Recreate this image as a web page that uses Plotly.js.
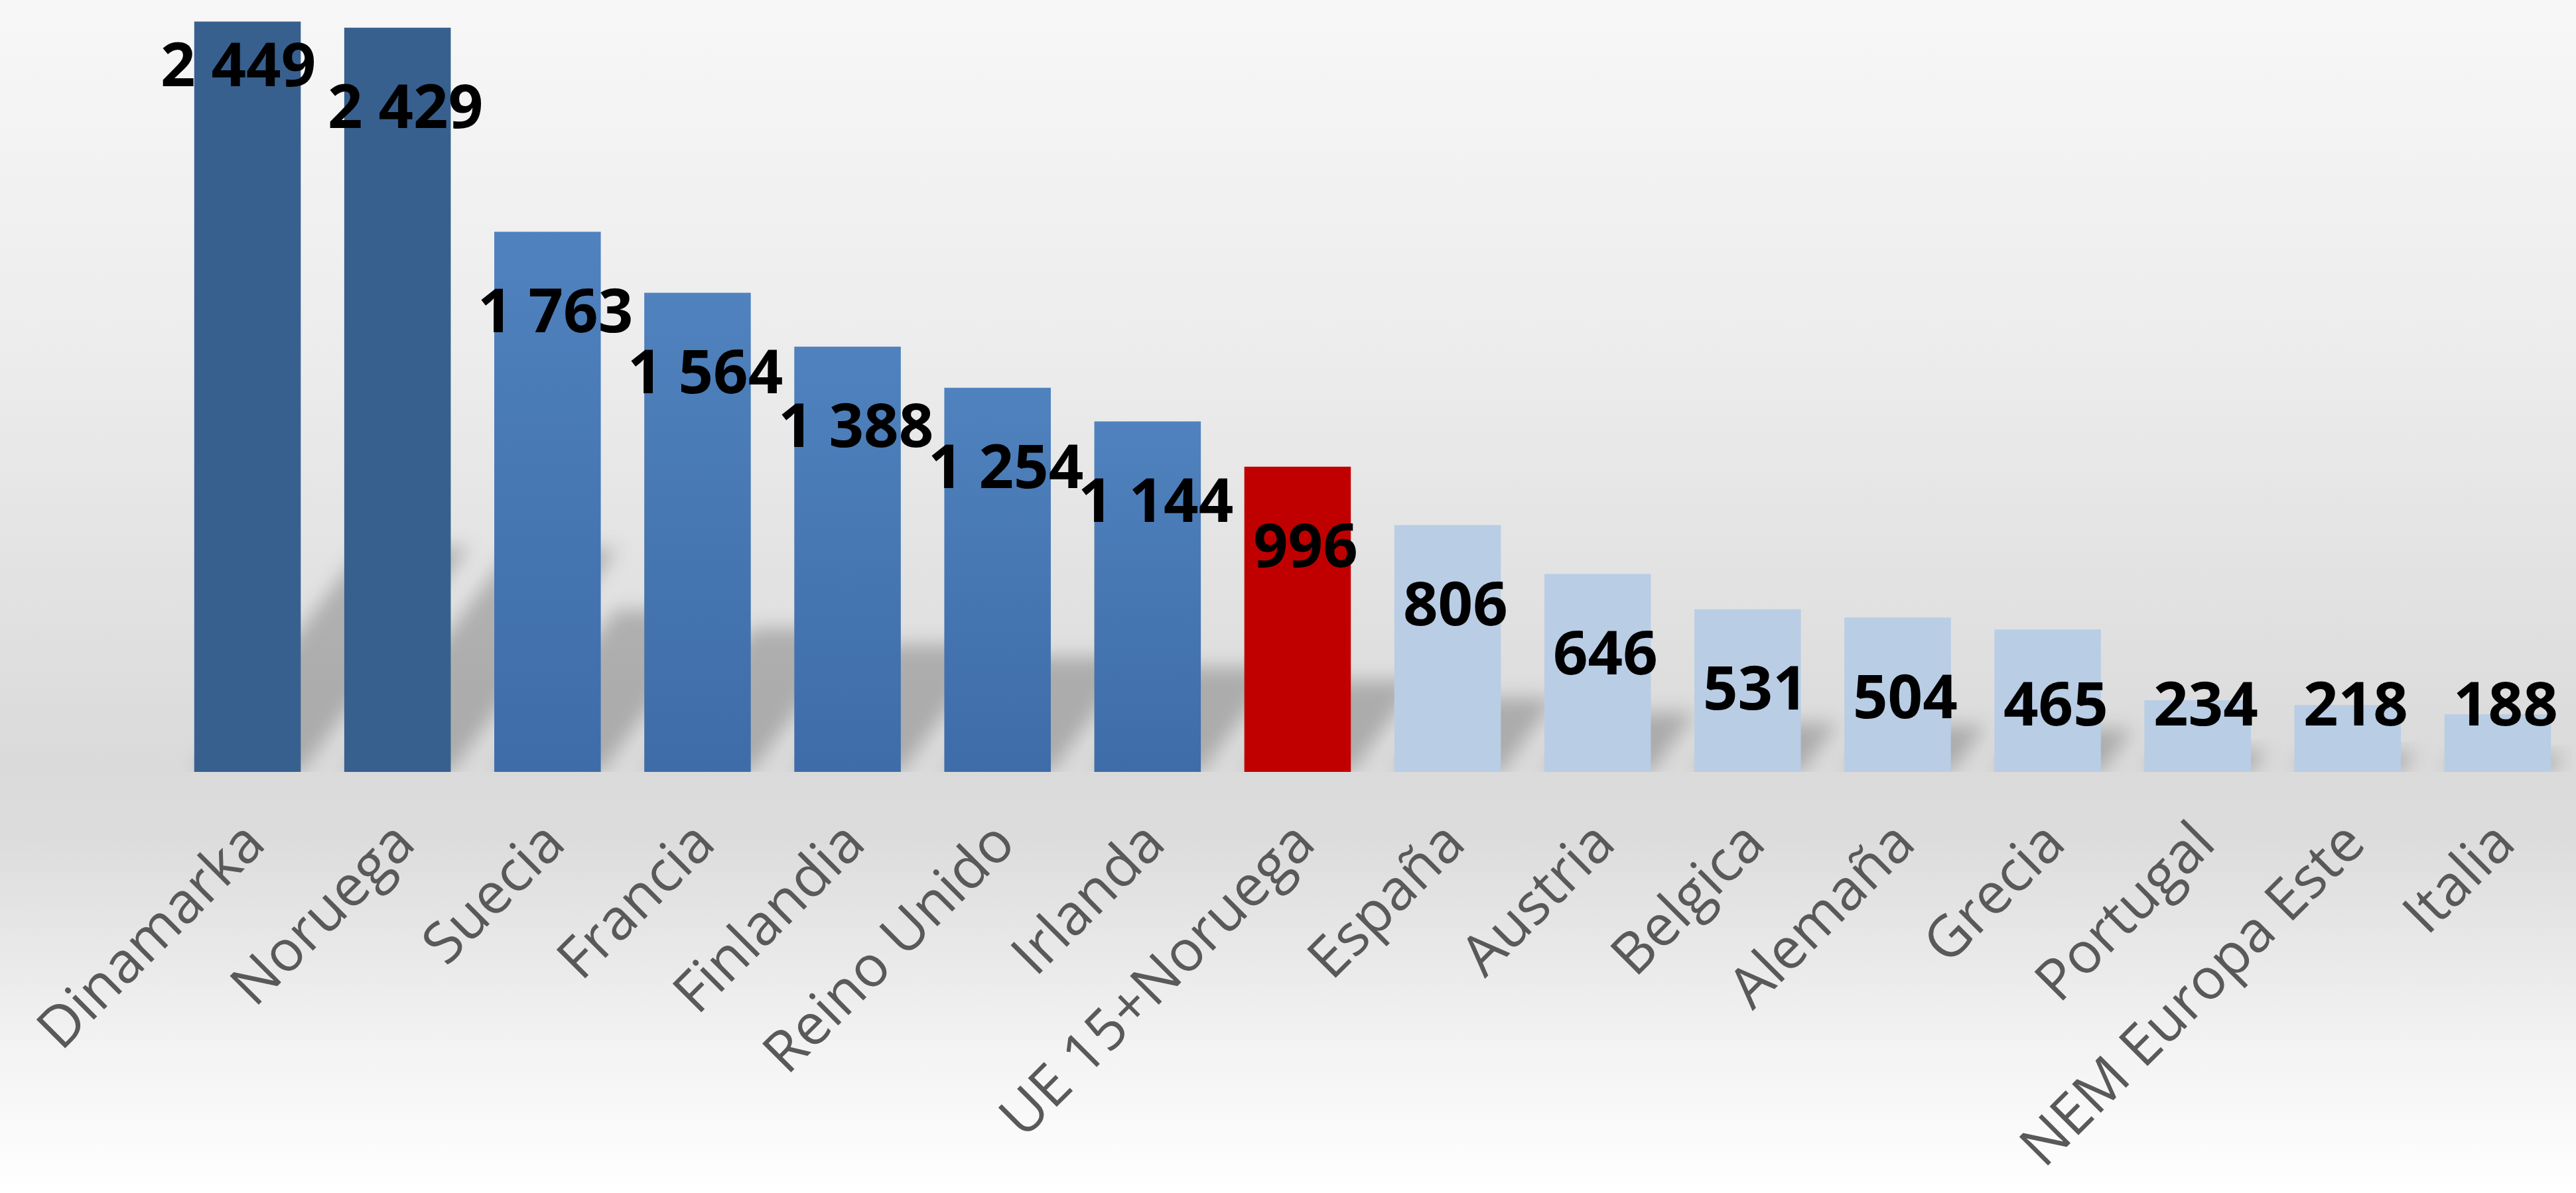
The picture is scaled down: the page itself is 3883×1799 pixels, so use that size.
<!DOCTYPE html>
<html>
<head>
<meta charset="utf-8">
<script src="https://cdn.plot.ly/plotly-3.0.1.min.js"></script>
<style>
  html, body { margin: 0; padding: 0; }
  body {
    width: 3883px; height: 1799px;
    background: linear-gradient(to bottom, #f7f7f7 0%, #ececec 30%, #dadada 64%, #dcdcdc 70%, #f3f3f3 88%, #ffffff 100%);
  }
  #chart { width: 3883px; height: 1799px; }
</style>
</head>
<body>
<div id="chart"></div>
<script>
// ---- data ----
const categories = ["Dinamarka", "Noruega", "Suecia", "Francia", "Finlandia", "Reino Unido", "Irlanda",
  "UE 15+Noruega", "España", "Austria", "Belgica", "Alemaña", "Grecia", "Portugal", "NEM Europa Este", "Italia"];
const values = [2449, 2429, 1763, 1564, 1388, 1254, 1144, 996, 806, 646, 531, 504, 465, 234, 218, 188];
const valueLabels = ["2 449", "2 429", "1 763", "1 564", "1 388", "1 254", "1 144", "996", "806", "646",
  "531", "504", "465", "234", "218", "188"];
// group of each bar: 0 = top group, 1 = upper-middle, 2 = average, 3 = below average
const groups = [0, 0, 1, 1, 1, 1, 1, 2, 3, 3, 3, 3, 3, 3, 3, 3];

// ---- styles ----
const groupColors = ["#37608f", "#4878b5", "#c00000", "#b9cde5"];
const colors = groups.map(g => groupColors[g]);
const labelFont = { family: "Open Sans, sans-serif", size: 92, color: "#000000", weight: 700 };

// label placement (style): below the bar top, never lower than near baseline
const labelDrop = 251, labelFloor = 229;
const labelNudgeY = { 0: 117 };
const labelNudgeX = { 0: -26 };
const annotations = categories.map((c, i) => ({
  x: c,
  y: Math.max(values[i] - labelDrop, labelFloor) + (labelNudgeY[i] || 0),
  xref: "x", yref: "y",
  text: "<b>" + valueLabels[i] + "</b>",
  showarrow: false,
  xanchor: "center", yanchor: "middle",
  xshift: 12 + (labelNudgeX[i] || 0),
  font: labelFont
}));

const trace = {
  type: "bar",
  x: categories,
  y: values,
  marker: { color: colors, line: { width: 0 } },
  hoverinfo: "skip"
};

const layout = {
  width: 3883, height: 1799,
  margin: { l: 260, r: 5, t: 9, b: 635, autoexpand: false },
  paper_bgcolor: "rgba(0,0,0,0)",
  plot_bgcolor: "rgba(0,0,0,0)",
  bargap: 0.29,
  showlegend: false,
  xaxis: {
    type: "category",
    range: [-0.5, 15.5],
    tickangle: -45,
    tickfont: { family: "Open Sans, sans-serif", size: 86, color: "#595959" },
    ticks: "outside", ticklen: 20, tickcolor: "rgba(0,0,0,0)",
    showline: false, showgrid: false, zeroline: false,
    automargin: false
  },
  yaxis: {
    range: [0, 2500],
    showticklabels: false, showgrid: false, zeroline: false, showline: false,
    automargin: false
  },
  annotations: annotations
};

Plotly.newPlot("chart", [trace], layout, { staticPlot: true }).then(gd => {
  const svg = gd.querySelector(".main-svg");
  const ns = "http://www.w3.org/2000/svg";
  let defs = svg.querySelector("defs");
  if (!defs) { defs = document.createElementNS(ns, "defs"); svg.insertBefore(defs, svg.firstChild); }

  // vertical gradient for the mid-blue bars
  const lg = document.createElementNS(ns, "linearGradient");
  lg.setAttribute("id", "midBlueGrad");
  lg.setAttribute("x1", "0"); lg.setAttribute("y1", "0");
  lg.setAttribute("x2", "0"); lg.setAttribute("y2", "1");
  [["0", "#4f82be"], ["1", "#3e6ca8"]].forEach(([o, c]) => {
    const s = document.createElementNS(ns, "stop");
    s.setAttribute("offset", o); s.setAttribute("stop-color", c);
    lg.appendChild(s);
  });
  defs.appendChild(lg);

  // soft blur filter for perspective shadows
  const flt = document.createElementNS(ns, "filter");
  flt.setAttribute("id", "shadowBlur");
  flt.setAttribute("x", "-50%"); flt.setAttribute("y", "-50%");
  flt.setAttribute("width", "200%"); flt.setAttribute("height", "200%");
  const gb = document.createElementNS(ns, "feGaussianBlur");
  gb.setAttribute("stdDeviation", "14");
  flt.appendChild(gb);
  defs.appendChild(flt);

  const paths = gd.querySelectorAll(".trace.bars .point path");
  const barTrace = gd.querySelector(".trace.bars");
  const shadowG = document.createElementNS(ns, "g");
  shadowG.setAttribute("class", "bar-shadows");
  paths.forEach((p, i) => {
    if (groups[i] === 1) p.style.fill = "url(#midBlueGrad)";
    const b = p.getBBox();
    const x0 = b.x, x1 = b.x + b.width, yb = b.y + b.height, h = b.height;
    const sh = 0.3 * h, sk = 0.75 * sh;
    const poly = document.createElementNS(ns, "polygon");
    poly.setAttribute("points",
      `${x0},${yb} ${x1},${yb} ${x1 + sk},${yb - sh} ${x0 + sk},${yb - sh}`);
    poly.setAttribute("fill", "rgba(0,0,0,0.22)");
    poly.setAttribute("filter", "url(#shadowBlur)");
    shadowG.appendChild(poly);
  });
  barTrace.parentNode.insertBefore(shadowG, barTrace);
});
</script>
</body>
</html>
